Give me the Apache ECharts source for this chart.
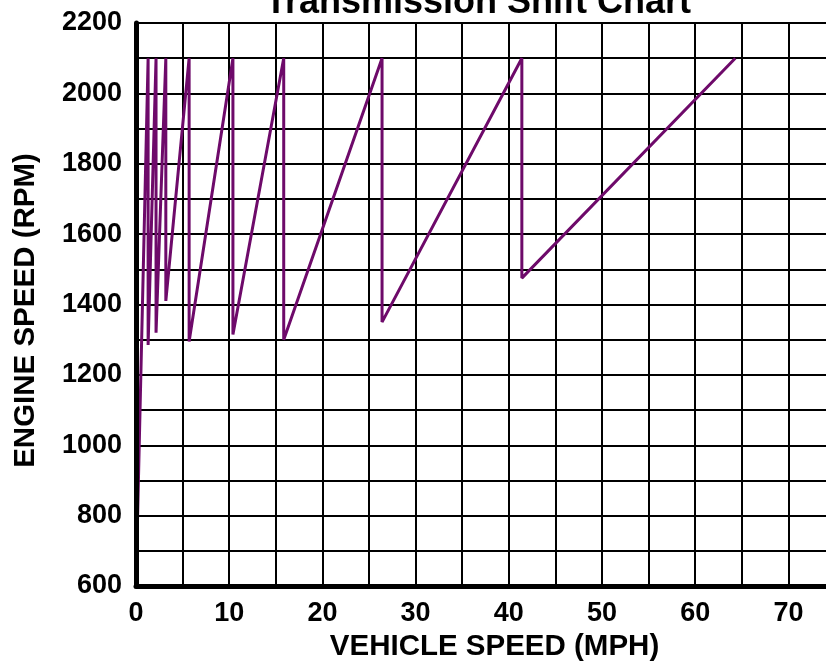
<!DOCTYPE html>
<html>
<head>
    <meta charset="utf-8">
    <title>Transmission Shift Chart</title>
    <script src="https://cdn.jsdelivr.net/npm/echarts@6.0.0/dist/echarts.min.js"></script>
    <style>
        html, body { margin: 0; padding: 0; background: #fff; }
    </style>
</head>
<body>

<div id="main" style="width: 826px;height:662px;"></div>

<script type="text/javascript">

    // shift points: speed (mph) and engine speed (rpm)
    var speedMph  = [0, 1.3, 1.3, 2.15, 2.15, 3.2, 3.2, 5.7, 5.7, 10.4, 10.4, 15.85, 15.85, 26.4, 26.4, 41.4, 41.4, 64.3];
    var engineRpm = [600, 2100, 1285, 2100, 1320, 2100, 1410, 2100, 1295, 2100, 1315, 2100, 1300, 2100, 1350, 2100, 1475, 2100];

    var xTicks = [0, 10, 20, 30, 40, 50, 60, 70];
    var yTicks = [600, 800, 1000, 1200, 1400, 1600, 1800, 2000, 2200];

    var points = speedMph.map(function (s, i) { return [s, engineRpm[i]]; });

    var font = "'Liberation Sans', Arial, sans-serif";

    var myChart = echarts.init(document.getElementById('main'), null, { renderer: 'canvas' });

    // the plot runs past the right edge of the picture (75 mph is cut off)
    var gridBox = { left: 136, top: 23, right: -9, bottom: 76, outerBoundsMode: 'none', containLabel: false };

    myChart.setOption({
        animation: false,
        backgroundColor: '#fff',
        title: {
            text: 'Transmission Shift Chart',
            left: 260,
            top: -20,
            textStyle: { fontFamily: font, fontWeight: 'bold', fontSize: 36, color: '#000' }
        },
        grid: [
            Object.assign({}, gridBox),
            Object.assign({}, gridBox)
        ],
        xAxis: [{
            type: 'value',
            gridIndex: 0,
            min: 0,
            max: 75,
            interval: 5,
            name: 'VEHICLE SPEED (MPH)',
            nameLocation: 'middle',
            nameGap: 44,
            nameTextStyle: {
                fontFamily: font, fontWeight: 'bold', fontSize: 29.5, color: '#000',
                padding: [0, 0, 0, 18]
            },
            axisLine: { onZero: false, lineStyle: { color: '#000', width: 5 } },
            axisTick: { show: false },
            axisLabel: {
                margin: 14,
                fontFamily: font, fontWeight: 'bold', fontSize: 27, color: '#000',
                formatter: function (v) { return xTicks.indexOf(v) >= 0 ? String(v) : ''; }
            },
            splitLine: { show: true, lineStyle: { color: '#000', width: 2 } }
        }, {
            type: 'value',
            gridIndex: 1,
            min: 0,
            max: 75,
            show: false
        }],
        yAxis: [{
            type: 'value',
            gridIndex: 0,
            min: 600,
            max: 2200,
            interval: 100,
            name: 'ENGINE SPEED (RPM)',
            nameLocation: 'middle',
            nameGap: 95,
            nameTextStyle: {
                fontFamily: font, fontWeight: 'bold', fontSize: 29.5, color: '#000',
                padding: [0, 12, 0, 0]
            },
            axisLine: { show: false },
            axisTick: { show: false },
            axisLabel: {
                margin: 14,
                fontFamily: font, fontWeight: 'bold', fontSize: 27, color: '#000',
                formatter: function (v) { return yTicks.indexOf(v) >= 0 ? String(v) : ''; }
            },
            splitLine: { show: true, lineStyle: { color: '#000', width: 2 } }
        }, {
            // thick left axis drawn above the curve
            type: 'value',
            gridIndex: 1,
            min: 600,
            max: 2200,
            z: 10,
            axisLine: { show: true, onZero: false, lineStyle: { color: '#000', width: 5 } },
            axisTick: { show: false },
            axisLabel: { show: false },
            splitLine: { show: false }
        }],
        series: [{
            name: 'Shift',
            type: 'line',
            xAxisIndex: 0,
            yAxisIndex: 0,
            data: points,
            showSymbol: false,
            symbol: 'none',
            lineStyle: { color: '#6e0a6a', width: 3 }
        }]
    });

</script>
</body>
</html>
